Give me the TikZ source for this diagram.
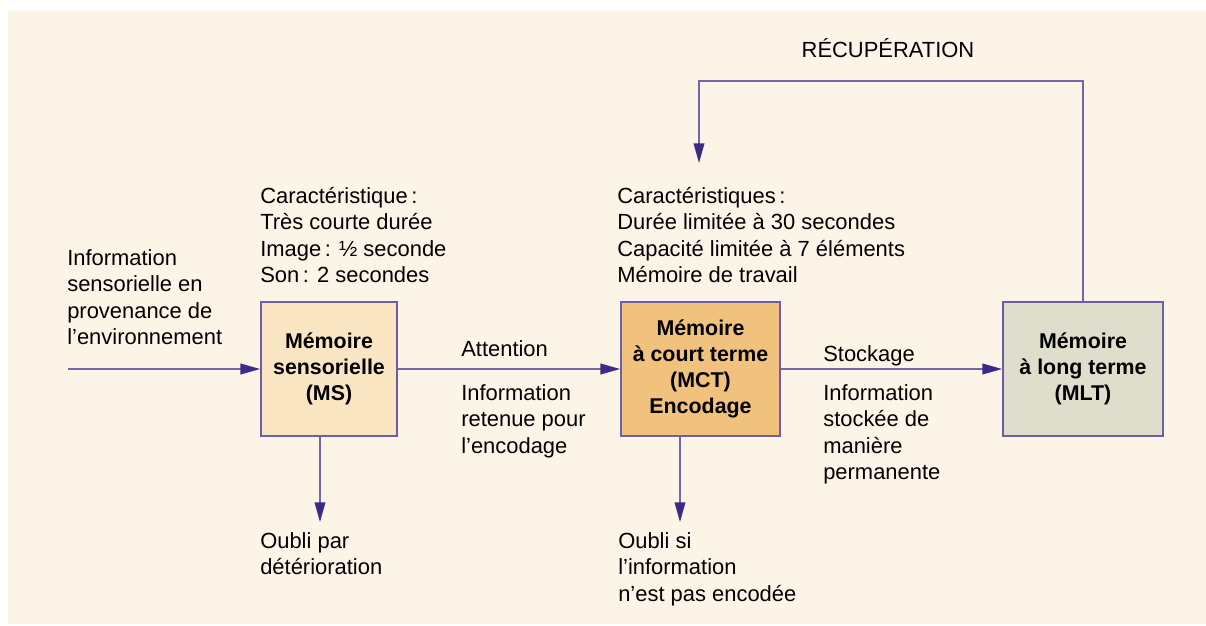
\documentclass[tikz,border=0pt]{standalone}
\usepackage{fontspec}
\setmainfont{Liberation Sans}
\usetikzlibrary{arrows.meta}
\definecolor{fond}{HTML}{FDF4E8}
\definecolor{trait}{HTML}{7565AA}
\definecolor{pointe}{HTML}{3B2A86}
\definecolor{bord}{HTML}{6E5EA6}
\definecolor{fondms}{HTML}{FAE5C2}
\definecolor{fondmct}{HTML}{F1C27E}
\definecolor{fondmlt}{HTML}{DFDDCC}

\begin{document}
\begin{tikzpicture}[x=0.025cm, y=-0.025cm,
                txt/.style={anchor=north west, inner sep=0pt, align=left, font=\fontsize{15.6}{18.8}\selectfont},
                boite/.style={draw=bord, line width=1.2pt, align=center, inner sep=0pt, minimum height=3.35cm, font=\bfseries\fontsize{15.2}{18.5}\selectfont},
                fleche/.style={draw=trait, line width=1.1pt, -{Triangle[length=14pt, width=7.6pt, color=pointe]}}]
                \useasboundingbox (0,0) rectangle (1206,626);
                \fill[fond] (8,11) rectangle (1206,624);

                \node[boite, fill=fondms, minimum width=3.4cm] (ms) at (329,369) {Mémoire\\sensorielle\\(MS)};
                \node[boite, fill=fondmct, minimum width=3.975cm] (mct) at (700.5,369) {Mémoire\\à court terme\\(MCT)\\Encodage};
                \node[boite, fill=fondmlt, minimum width=4cm] (mlt) at (1083,369) {Mémoire\\à long terme\\(MLT)};

                \node[txt] (entreeTxt) at (67,249) {Information\\sensorielle en\\provenance de\\l’environnement};
                \node[txt] (carMS) at (260,187) {Caractéristique\,:\\Très courte durée\\Image\,: ½ seconde\\Son\,: 2 secondes};
                \node[txt] (carMCT) at (617,187) {Caractéristiques\,:\\Durée limitée à 30 secondes\\Capacité limitée à 7 éléments\\Mémoire de travail};
                \node[txt] (attention) at (461,340) {Attention};
                \node[txt] (retenue) at (461,384) {Information\\retenue pour\\l’encodage};
                \node[txt] (stockage) at (823,345) {Stockage};
                \node[txt] (stockee) at (823,384) {Information\\stockée de\\manière\\permanente};
                \node[txt] (oubliMS) at (260,532) {Oubli par\\détérioration};
                \node[txt] (oubliMCT) at (618,532) {Oubli si\\l’information\\n’est pas encodée};
                \node[txt, anchor=north] (recup) at (888,38) {RÉCUPÉRATION};

                \coordinate (entree) at (68,369);
                \coordinate (finMS) at (320,522);
                \coordinate (finMCT) at (680,522);
                \coordinate (retour) at (699,81);
                \coordinate (rappel) at (699,163);

                \draw[fleche] (entree) -- (ms.west);
                \draw[fleche] (ms.east) -- (mct.west);
                \draw[fleche] (mct.east) -- (mlt.west);
                \draw[fleche] (ms.south -| finMS) -- (finMS);
                \draw[fleche] (mct.south -| finMCT) -- (finMCT);
                \draw[fleche] (mlt.north) |- (retour) -- (rappel);
            \end{tikzpicture}
\end{document}
